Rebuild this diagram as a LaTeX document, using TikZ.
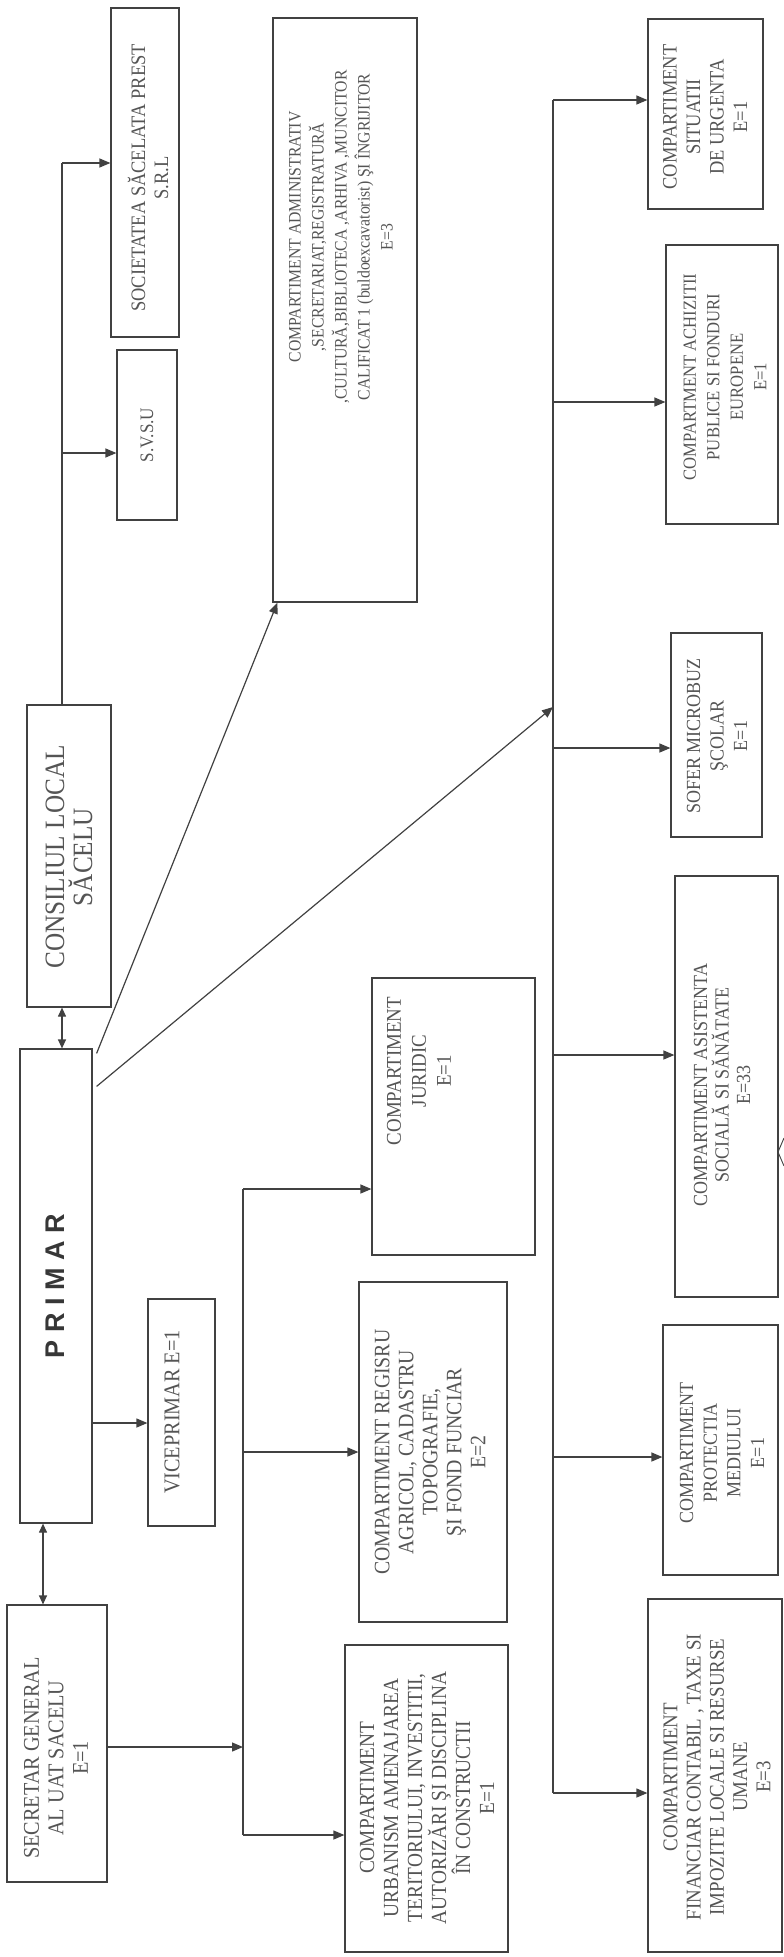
\documentclass[tikz,border=0pt]{standalone}
\usepackage{fontspec}
\setmainfont{Liberation Serif}[FakeStretch=0.9]
\newfontfamily\primarfont{Liberation Sans}
\usetikzlibrary{arrows.meta,calc,fit}
\definecolor{ln}{RGB}{65,65,65}
\definecolor{tx}{RGB}{85,85,85}
\definecolor{tp}{RGB}{55,55,55}
\tikzset{
 box/.style={draw=ln, line width=1.2pt, rectangle, inner sep=0pt},
 lbl/.style={rotate=90, align=center, text=tx, inner sep=0pt},
 fs/.style 2 args={font=\fontsize{#1}{#2}\selectfont},
 conn/.style={draw=ln, line width=1.2pt},
 arr/.style={conn, -{Triangle[length=11pt,width=9pt]}},
 dbl/.style={conn, {Triangle[length=9pt,width=8pt]}-{Triangle[length=9pt,width=8pt]}},
}
\begin{document}
\begin{tikzpicture}[x=1pt,y=-1pt]
\useasboundingbox[fill=white] (0,0) rectangle (784,1957);
% boxes
\node[box, fit={(111,8) (179,337)}] (soc) {};
\node[box, fit={(117,350) (177,520)}] (svsu) {};
\node[box, fit={(27,705) (111,1007)}] (consiliu) {};
\node[box, fit={(20,1049) (92,1523)}] (primar) {};
\node[box, fit={(7,1605) (107,1882)}] (secretar) {};
\node[box, fit={(148,1299) (215,1526)}] (vice) {};
\node[box, fit={(273,18) (417,602)}] (admin) {};
\node[box, fit={(372,978) (535,1255)}] (juridic) {};
\node[box, fit={(359,1282) (507,1622)}] (registru) {};
\node[box, fit={(345,1645) (508,1952)}] (urbanism) {};
\node[box, fit={(648,19) (763,209)}] (situatii) {};
\node[box, fit={(666,245) (778,524)}] (achizitii) {};
\node[box, fit={(671,633) (762,837)}] (sofer) {};
\node[box, fit={(675,876) (778,1297)}] (asistenta) {};
\node[box, fit={(663,1325) (778,1575)}] (protectia) {};
\node[box, fit={(648,1599) (782,1952)}] (financiar) {};
% labels
\node[lbl, fs={20.5}{23}] (socT) at (148,178) {SOCIETATEA SĂCELATA PREST\\S.R.L};
\node[lbl, fs={19}{23}] (svsuT) at (147,435) {S.V.S.U};
\node[lbl, fs={28}{28}] (consT) at (69,857) {CONSILIUL LOCAL\\SĂCELU};
\node[rotate=90, inner sep=0pt, text=tp, font=\primarfont\bfseries\fontsize{27}{30}\selectfont] (primT) at (55,1286) {P R I M A R};
\node[lbl, fs={22.5}{24.5}] (secT) at (56,1758) {SECRETAR GENERAL\\AL UAT SACELU\\E=1};
\node[lbl, fs={22.5}{24}] (viceT) at (172,1412) {VICEPRIMAR E=1};
\node[lbl, fs={17.5}{23}] (adminT) at (341,237) {COMPARTIMENT ADMINISTRATIV\\,SECRETARIAT,REGISTRATURĂ\\,CULTURĂ,BIBLIOTECA ,ARHIVA ,MUNCITOR\\CALIFICAT 1 (buldoexcavatorist) ŞI ÎNGRIJITOR\\E=3};
\node[lbl, fs={21}{25}] (jurT) at (419,1071) {COMPARTIMENT\\JURIDIC\\E=1};
\node[lbl, fs={22}{24}] (regT) at (430,1452) {COMPARTIMENT REGISRU\\AGRICOL, CADASTRU\\TOPOGRAFIE,\\ŞI FOND FUNCIAR\\E=2};
\node[lbl, fs={21.5}{24}] (urbT) at (427,1798) {COMPARTIMENT\\URBANISM AMENAJAREA\\TERITORIULUI, INVESTITII,\\AUTORIZĂRI ŞI DISCIPLINA\\ÎN CONSTRUCTII\\E=1};
\node[lbl, fs={20.5}{23.5}] (sitT) at (705,117) {COMPARTIMENT\\SITUATII\\DE URGENTA\\E=1};
\node[lbl, fs={18.5}{23.5}] (achT) at (725,377) {COMPARTMENT ACHIZITII\\PUBLICE SI FONDURI\\EUROPENE\\E=1};
\node[lbl, fs={20}{23.5}] (sofT) at (717,736) {SOFER MICROBUZ\\ŞCOLAR\\E=1};
\node[lbl, fs={20}{21.5}] (asiT) at (722,1085) {COMPARTIMENT ASISTENTA\\SOCIALĂ SI SĂNĂTATE\\E=33};
\node[lbl, fs={20}{23.7}] (proT) at (722,1453) {COMPARTIMENT\\PROTECTIA\\MEDIULUI\\E=1};
\node[lbl, fs={21}{23.3}] (finT) at (717,1777) {COMPARTIMENT\\FINANCIAR CONTABIL , TAXE SI\\IMPOZITE LOCALE SI RESURSE\\UMANE\\E=3};
% consiliu connections
\coordinate (cx) at (62,0);
\coordinate (ctop) at (62,163);
\coordinate (csv) at (62,453);
\draw[dbl] (consiliu.south -| cx) -- (primar.north -| cx);
\draw[conn] (consiliu.north -| cx) -- (ctop);
\draw[arr] (ctop) -- (ctop -| soc.west);
\draw[arr] (csv) -- (csv -| svsu.west);
% primar connections
\coordinate (sx) at (43,0);
\coordinate (vy) at (0,1423);
\draw[dbl] (primar.south -| sx) -- (secretar.north -| sx);
\draw[arr] (primar.east |- vy) -- (vice.west |- vy);
\draw[arr] ($(primar.north east)+(4,5)$) -- ($(admin.south west)+(5,0)$);
\coordinate (rb) at (553,707);
\draw[arr] ($(primar.north east)+(4,38)$) -- (rb);
% right bus
\coordinate (rSit) at (553,100);
\coordinate (rAch) at (553,402);
\coordinate (rSof) at (553,748);
\coordinate (rAsi) at (553,1055);
\coordinate (rPro) at (553,1457);
\coordinate (rFin) at (553,1793);
\draw[conn] (rSit) -- (rFin);
\draw[arr] (rSit) -- (rSit -| situatii.west);
\draw[arr] (rAch) -- (rAch -| achizitii.west);
\draw[arr] (rSof) -- (rSof -| sofer.west);
\draw[arr] (rAsi) -- (rAsi -| asistenta.west);
\draw[arr] (rPro) -- (rPro -| protectia.west);
\draw[arr] (rFin) -- (rFin -| financiar.west);
% left bus
\coordinate (lJur) at (243,1189);
\coordinate (lReg) at (243,1452);
\coordinate (lSec) at (243,1747);
\coordinate (lUrb) at (243,1835);
\draw[conn] (lJur) -- (lUrb);
\draw[arr] (lJur) -- (lJur -| juridic.west);
\draw[arr] (lReg) -- (lReg -| registru.west);
\draw[arr] (lUrb) -- (lUrb -| urbanism.west);
\draw[arr] (secretar.east |- lSec) -- (lSec);
% stray mark
\draw[conn, line width=0.9pt] (784,1138) -- (778,1152) -- (784,1166);
\end{tikzpicture}
\end{document}
